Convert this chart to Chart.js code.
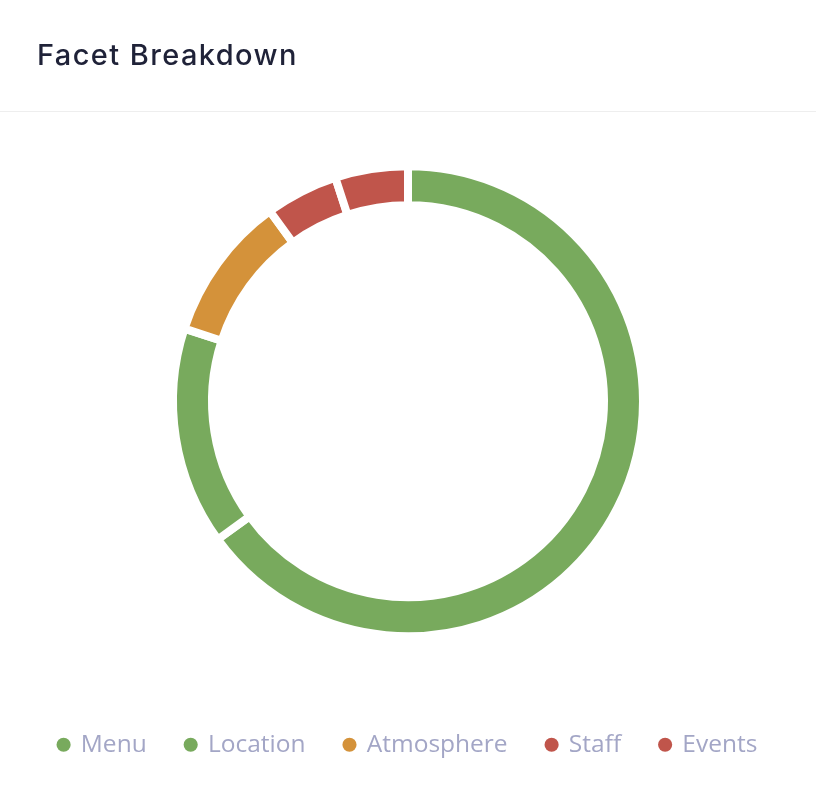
<!doctype html>
<html lang="en">
  <head>
    <meta charset="utf-8">
    <title>Facet Breakdown</title>
    <style>
      html, body { margin: 0; padding: 0; background: #fff; }
      .card { position: relative; width: 816px; height: 802px; }
      .card h2 {
        position: absolute; left: 37px; top: 37px; margin: 0;
        font-family: Inter, "Noto Sans", sans-serif; font-weight: 500;
        font-size: 29px; line-height: 36px; color: #1f2238; letter-spacing: 1.4px;
      }
      .divider { position: absolute; left: 0; top: 111px; width: 816px; height: 1px; background: #eeeeee; }
      .chart-box { position: absolute; left: 0; top: 0; width: 816px; height: 802px; }
    </style>
  </head>
  <body>
    <div class="card">
      <div class="chart-box"><canvas id="facetChart"></canvas></div>
      <h2>Facet Breakdown</h2>
      <div class="divider"></div>
    </div>

    <script src="https://cdn.jsdelivr.net/npm/chart.js/dist/chart.umd.min.js"></script>
    <script>
      // facet shares (percent)
      const facetLabels = ['Menu', 'Location', 'Atmosphere', 'Staff', 'Events'];
      const facetValues = [65, 15, 10, 5, 5];
      const facetColors = ['#78aa5d', '#78aa5d', '#d4923a', '#c0554b', '#c0554b'];

      const config = {
        type: 'doughnut',
        data: {
          labels: facetLabels,
          datasets: [{
            data: facetValues,
            backgroundColor: facetColors,
            // white border makes the gaps between slices
            borderWidth: 8,
            borderColor: '#ffffff'
          }]
        },
        options: {
          responsive: true,
          maintainAspectRatio: false,
          animation: false,
          radius: 235,
          cutout: '83.4%',
          layout: { padding: { top: 109, bottom: 35 } },
          plugins: {
            tooltip: { enabled: false },
            legend: {
              position: 'bottom',
              labels: {
                usePointStyle: true,
                pointStyle: 'circle',
                boxWidth: 10,
                boxHeight: 10,
                padding: 39,
                color: '#a3a6c6',
                font: { family: '"Open Sans", Lato, sans-serif', size: 24.5 },
                // legend dots without the white slice border
                generateLabels: chart => Chart.overrides.doughnut.plugins.legend.labels
                  .generateLabels(chart)
                  .map(item => Object.assign(item, { lineWidth: 0, strokeStyle: item.fillStyle }))
              }
            }
          }
        }
      };

      const facetChart = new Chart(document.getElementById('facetChart'), config);
    </script>
  </body>
</html>
